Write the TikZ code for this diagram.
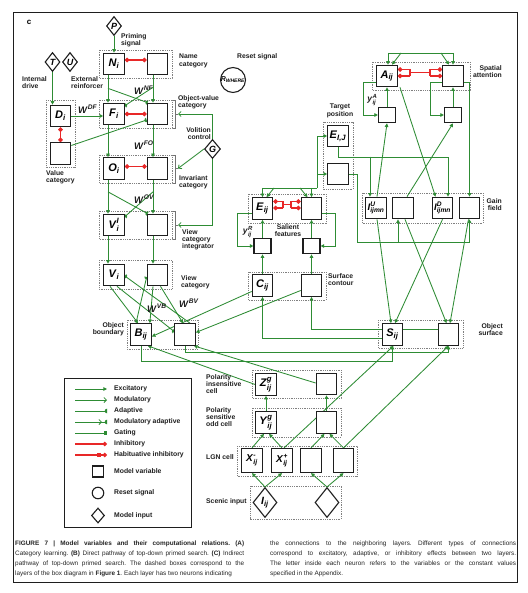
\documentclass[tikz,border=0pt]{standalone}
\usepackage{fontspec}
\usepackage{amsmath}
\setmainfont{Liberation Sans}
\usetikzlibrary{arrows.meta,calc,shapes.geometric}
\pgfdeclarelayer{bg}
\pgfdeclarelayer{paper}
\pgfsetlayers{paper,bg,main}
\definecolor{gr}{RGB}{46,140,52}
\definecolor{rd}{RGB}{232,40,40}
\definecolor{ink}{RGB}{30,30,30}

\pgfdeclarearrow{
  name = HalfDisc,
  parameters = {\the\pgfarrowlength},
  setup code = {
    \pgfarrowssettipend{0pt}
    \pgfarrowssetlineend{-0.5\pgfarrowlength}
    \pgfarrowssetbackend{-\pgfarrowlength}
    \pgfarrowshullpoint{0pt}{\pgfarrowlength}
    \pgfarrowshullpoint{0pt}{-\pgfarrowlength}
    \pgfarrowshullpoint{-\pgfarrowlength}{0pt}
    \pgfarrowssavethe\pgfarrowlength
  },
  drawing code = {
    \pgfpathmoveto{\pgfqpoint{0pt}{\pgfarrowlength}}
    \pgfpatharc{90}{270}{\pgfarrowlength}
    \pgfpathclose
    \pgfusepathqfill
  },
  defaults = { length = 2.3pt }
}

\newcommand{\nvar}[2]{$\textbf{\textit{#1}}_{\textbf{\textit{#2}}}$}
\newcommand{\nvars}[3]{$\textbf{\textit{#1}}^{\textbf{\textit{#3}}}_{\textbf{\textit{#2}}}$}
\newcommand{\wlab}[2]{$\textbf{\textit{#1}}^{\textbf{\textit{#2}}}$}

\tikzset{
 cell/.style={draw=ink, line width=1.2pt, fill=white, minimum width=20.5pt, minimum height=21.5pt, inner sep=0pt, font=\fontsize{11}{11}\selectfont},
 xcell/.style={cell, minimum height=24pt, font=\fontsize{10}{10}\selectfont},
 scell/.style={cell, minimum width=17pt, minimum height=15.5pt},
 gcell/.style={cell, font=\fontsize{9.5}{9.5}\selectfont},
 dia/.style={diamond, draw=ink, line width=1.1pt, fill=white, inner sep=0pt, font=\fontsize{9}{9}\selectfont\bfseries\itshape},
 layerbox/.style={draw=black!50, line width=0.6pt, dash pattern=on 0.9pt off 0.9pt},
 lbl/.style={font=\fontsize{6.8}{7.3}\selectfont\bfseries, inner sep=0pt, text=ink},
 wl/.style={font=\fontsize{9.5}{9.5}\selectfont, inner sep=0pt, text=ink},
 gl/.style={draw=gr, line width=0.85pt},
 exc/.style={gl, -{Triangle[length=3.6pt,width=3.6pt]}},
 adp/.style={gl, -{HalfDisc[length=2.3pt]}},
 mdl/.style={gl, -{Straight Barb[length=2.5pt,width=5pt]}},
 inh/.style={draw=rd, line width=1.1pt, {Circle[length=4.5pt]}-{Circle[length=4.5pt]}},
 rl/.style={draw=rd, line width=1.1pt},
 rdot/.style={rl, -{Circle[length=4.5pt]}},
 brk/.style={draw=black!55, line width=0.7pt},
 capt/.style={font=\fontsize{6.4}{10}\selectfont\frenchspacing, align=justify, inner sep=0pt, text=black!85},
}

\begin{document}
\begin{tikzpicture}[x=1pt,y=-1pt]
\useasboundingbox (0,0) rectangle (527,593);
\begin{pgfonlayer}{paper}
\fill[white] (0,0) rectangle (527,593);
\end{pgfonlayer}
\draw[line width=1pt, draw=ink] (13,13) rectangle (517,582);
\node[font=\fontsize{8}{8}\selectfont\bfseries] (cl) at (29,22) {c};

% ---------- left column nodes ----------
\node[dia, minimum width=15pt, minimum height=19pt] (P) at (114,26) {P};
\node[cell] (N) at (114,64) {\nvar{N}{i}};
\node[cell] (Nr) at (157.5,64) {};
\node[cell] (F) at (114,114) {\nvar{F}{i}};
\node[cell] (Fr) at (157.5,114) {};
\node[cell] (O) at (114,168.5) {\nvar{O}{i}};
\node[cell] (Or) at (157.5,168.5) {};
\node[cell] (VI) at (114,225) {\nvars{V}{i}{I}};
\node[cell] (VIr) at (157.5,225) {};
\node[cell] (V) at (114,275) {\nvar{V}{i}};
\node[cell] (Vr) at (157.5,275) {};
\node[cell] (D) at (60.5,116) {\nvar{D}{i}};
\node[cell] (DV) at (60.5,153.5) {};
\node[dia, minimum width=15pt, minimum height=19pt] (T) at (52.5,62) {T};
\node[dia, minimum width=15pt, minimum height=19pt] (U) at (70,62) {U};
\node[dia, minimum width=16pt, minimum height=19pt] (G) at (212.5,149) {G};
\node[circle, draw=ink, line width=1.1pt, minimum size=24pt, inner sep=0pt, font=\fontsize{7}{7}\selectfont] (R) at (233,80) {$\textbf{\textit{R}}_{\textbf{\textit{WHERE}}}$};
\node[cell] (B) at (141,334.5) {\nvar{B}{ij}};
\node[cell] (Br) at (185,334.5) {};

% ---------- right side nodes ----------
\node[cell] (A) at (387,76) {\nvar{A}{ij}};
\node[cell] (Ar) at (453,76) {};
\node[scell] (YA) at (387,115) {};
\node[scell] (YAr) at (453,115) {};
\node[cell] (EIJ) at (338,136) {\nvar{E}{I,J}};
\node[cell] (ET2) at (338,174) {};
\node[cell] (E) at (262.5,208.5) {\nvar{E}{ij}};
\node[cell] (Er) at (311.5,208.5) {};
\node[scell] (YE) at (262.5,246) {};
\node[scell] (YEr) at (311.5,246) {};
\node[cell] (C) at (262.5,285.5) {\nvar{C}{ij}};
\node[cell] (Cr) at (311.5,285.5) {};
\node[gcell] (IU) at (376,208) {\nvars{I}{ijmn}{U}};
\node[gcell] (G2) at (403,208) {};
\node[gcell] (ID) at (442.5,208) {\nvars{I}{ijmn}{D}};
\node[gcell] (G4) at (469.5,208) {};
\node[cell] (S) at (392.5,334.5) {\nvar{S}{ij}};
\node[cell] (Sr) at (448.5,334.5) {};

% ---------- lower stack ----------
\node[cell] (Z) at (266,384.5) {\nvars{Z}{ij}{g}};
\node[cell] (Zr) at (326.5,384) {};
\node[cell] (Y) at (266,422.5) {\nvars{Y}{ij}{g}};
\node[cell] (Yr) at (326.5,422.5) {};
\node[xcell] (Xm) at (252,460.5) {\nvars{X}{ij}{-}};
\node[xcell] (Xp) at (282,460.5) {\nvars{X}{ij}{+}};
\node[xcell] (X3) at (311,460.5) {};
\node[xcell] (X4) at (343.5,460.5) {};
\node[dia, minimum width=24pt, minimum height=30pt, font=\fontsize{10.5}{10.5}\selectfont] (I) at (265,502.5) {\nvar{I}{ij}};
\node[dia, minimum width=24pt, minimum height=30pt] (I2) at (327,502.5) {};

% brace tips and bends
\coordinate (bF) at (178,114);
\coordinate (bO) at (178,168.5);
\coordinate (bVI) at (178,225);
\coordinate (eb) at (317,188);
\coordinate (gbus) at (357,242);

\begin{pgfonlayer}{bg}
% layer boxes
\draw[layerbox] (99,50) rectangle (172,78);
\draw[layerbox] (99,100) rectangle (172,128);
\draw[layerbox] (99,155) rectangle (172,183);
\draw[layerbox] (99,211) rectangle (172,239);
\draw[layerbox] (99,260) rectangle (172,289);
\draw[layerbox] (46,100) rectangle (75,167);
\draw[layerbox] (127,320) rectangle (198,349);
\draw[layerbox] (372,62) rectangle (470,90);
\draw[layerbox] (323,122) rectangle (353,189);
\draw[layerbox] (248,194) rectangle (326,223);
\draw[layerbox] (362,193) rectangle (483,223);
\draw[layerbox] (248,272) rectangle (326,300);
\draw[layerbox] (378,320) rectangle (463,348);
\draw[layerbox] (252,370) rectangle (341,398);
\draw[layerbox] (252,408) rectangle (341,437);
\draw[layerbox] (237,446) rectangle (357,476);
\draw[layerbox] (250,486) rectangle (341,519);
% braces
\draw[brk] (172.5,100) -- (175.5,100) -- (175.5,128) -- (172.5,128) (175.5,114) -- (bF);
\draw[brk] (172.5,155) -- (175.5,155) -- (175.5,183) -- (172.5,183) (175.5,168.5) -- (bO);
\draw[brk] (172.5,211) -- (175.5,211) -- (175.5,239) -- (172.5,239) (175.5,225) -- (bVI);

% ---- left column connectors ----
\draw[exc] (P) -- (N);
\draw[exc] ($(N.south)+(-6,0)$) -- ($(F.north)+(-6,0)$);
\draw[exc] ($(Nr.south)+(-4.5,0)$) -- ($(Fr.north)+(-4.5,0)$);
\draw[adp] ($(N.south)+(-6,13)$) -- ($(Fr.north west)+(1,0)$);
\draw[adp] ($(Nr.south)+(-4.5,12)$) -- ($(F.north east)+(0,3)$);
\draw[inh] ($(N.east)+(0,-4)$) -- ($(Nr.west)+(0,-4)$);
\draw[inh] (F) -- (Fr);
\draw[inh] ($(O.east)+(0,-2)$) -- ($(Or.west)+(0,-2)$);
\draw[exc] (D.east) -- (D.east -| F.west);
\draw[adp] ($(DV.east)+(0,-8)$) -- ($(Fr.west)+(0,6)$);
\draw[inh] (D) -- (DV);
\draw[exc] (T.south) -- (T.south |- D.north);
\draw[exc] ($(F.south)+(-6,0)$) -- ($(O.north)+(-6,0)$);
\draw[exc] ($(Fr.south)+(-4.5,0)$) -- ($(Or.north)+(-4.5,0)$);
\draw[exc] ($(O.south)+(-6,0)$) -- ($(VI.north)+(-6,0)$);
\draw[exc] ($(Or.south)+(-4.5,0)$) -- ($(VIr.north)+(-4.5,0)$);
\draw[adp] ($(O.south)+(-6,12)$) -- ($(VIr.north west)+(1,0)$);
\draw[adp] ($(Or.south)+(-4.5,12)$) -- ($(VI.north east)+(0,3)$);
\draw[exc] ($(VI.south)+(-6,0)$) -- ($(V.north)+(-6,0)$);
\draw[exc] ($(VIr.south)+(-4.5,0)$) -- ($(Vr.north)+(-4.5,0)$);
\draw[mdl] (G.north) |- (bF);
\draw[mdl] (G.west) -- (bO);
\draw[mdl] (G.south) |- (bVI);
% V <-> B
\draw[exc] ($(V.south)+(-4,0)$) -- ($(B.north)+(-3,0)$);
\draw[adp] ($(V.south)+(3,0)$) -- ($(Br.west)+(0,-3)$);
\draw[exc] ($(Vr.south)+(-4.5,0)$) -- ($(B.north east)+(-2,0)$);
\draw[exc] ($(Vr.south)+(3,0)$) -- ($(Br.north)+(-2,0)$);
\draw[adp] ($(B.north)+(-5,0)$) -- ($(Vr.west)+(0,2)$);
\draw[adp] ($(Br.north)+(5,0)$) -- ($(V.east)+(0,1)$);

% ---- attention ----
\draw[gl] (388,53) -- (453,53);
\draw[exc] (388,53) -- ($(A.north)+(1,0)$);
\draw[exc] (401,53) -- ($(A.north)+(5,0)$);
\draw[exc] (453,53) -- (Ar.north);
\draw[exc] (441,53) -- ($(Ar.north)+(-4,0)$);
\draw[rl] (410,69.5) -- (410,76) (410,72.75) -- (430,72.75) (430,69.5) -- (430,76);
\draw[rdot] (410,69.5) -- ($(A.east)+(0,-6.5)$);
\draw[rdot] (410,76) -- (A.east);
\draw[rdot] (430,69.5) -- ($(Ar.west)+(0,-6.5)$);
\draw[rdot] (430,76) -- (Ar.west);
\draw[exc] ($(A.west)+(0,6)$) -- ++(-13,0) |- (YA.west);
\draw[exc] (YA.north) -- (A.south);
\draw[exc] ($(Ar.west)+(0,6)$) -- ++(-12,0) |- (YAr.west);
\draw[exc] (YAr.north) -- (Ar.south);

% ---- salient / target ----
\draw[gl] (262.5,188) -- (eb);
\draw[exc] (262.5,188) -- (E.north);
\draw[exc] (274,188) -- ($(E.north)+(4,0)$);
\draw[exc] (311.5,188) -- (Er.north);
\draw[exc] (300,188) -- ($(Er.north)+(-4,0)$);
\draw[exc] (eb) |- (EIJ.west);
\draw[exc] (eb |- ET2.west) -- (ET2.west);
\draw[rl] (283,201.5) -- (283,208) (283,204.75) -- (291,204.75) (291,201.5) -- (291,208);
\draw[rdot] (283,201.5) -- ($(E.east)+(0,-7)$);
\draw[rdot] (283,208) -- ($(E.east)+(0,-0.5)$);
\draw[rdot] (291,201.5) -- ($(Er.west)+(0,-7)$);
\draw[rdot] (291,208) -- ($(Er.west)+(0,-0.5)$);
\draw[exc] ($(E.west)+(0,4.5)$) -- ++(-14,0) |- (YE.west);
\draw[exc] ($(Er.east)+(0,4.5)$) -- ++(13,0) |- (YEr.east);
\draw[exc] (YE.north) -- (E.south);
\draw[exc] (YEr.north) -- (Er.south);
\draw[exc] (C.north) -- (YE.south);
\draw[exc] (Cr.north) -- (YEr.south);

% ---- gain field ----
\draw[exc] (EIJ.south) |- (448,157) -- ($(ID.north)+(5.5,0)$);
\draw[exc] ($(IU.north)+(-6,-40)$) -- ($(IU.north)+(-6,0)$);
\draw[exc] ($(A.south)+(13,0)$) -- ($(ID.north)+(-7,0)$);
\draw[exc] ($(Ar.east)+(0,6)$) -| (G4.north);
\draw[exc] ($(IU.north)+(1,0)$) -- (YA.south);
\draw[exc] ($(G2.north)+(4,0)$) -- (YAr.south);
\draw[exc] (ET2.east) -| (gbus) -| (G4.south);
\draw[exc] ($(G2.south)+(-5,23)$) -- ($(G2.south)+(-5,0)$);
\draw[exc] ($(IU.south)+(1,0)$) -- ($(S.north)+(-1.5,0)$);
\draw[exc] (ID.south) -- ($(S.north)+(2.5,0)$);
\draw[exc] ($(G2.south)+(2,0)$) -- ($(Sr.north)+(-2,0)$);
\draw[exc] ($(G4.south)+(-1,0)$) -- ($(Sr.north)+(1.5,0)$);

% ---- surface / contour / boundary ----
\draw[exc] ($(Sr.west)+(0,-5.5)$) -| (Cr.south);
\draw[exc] ($(S.west)+(0,3.5)$) -| (C.south);
\draw[exc] ($(C.west)+(0,6)$) -- ($(B.east)+(0,2)$);
\draw[exc] ($(Cr.west)+(0,5)$) -- ($(Br.east)+(0,-2)$);
\draw[exc] (B.south) -- ++(0,16) -| (S.south);
\draw[exc] (Br.south) -- ++(0,7) -| (Sr.south);
\draw[exc] (Z.west) -- ($(B.south east)+(-4,0)$);
\draw[exc] ($(Zr.west)+(0,-1)$) -- ($(Br.south east)+(-2,0)$);

% ---- lower stack ----
\draw[exc] (I.north) -- (Xm.south);
\draw[exc] (I.north) -- (Xp.south);
\draw[exc] (I2.north) -- (X3.south);
\draw[exc] (I2.north) -- (X4.south);
\draw[exc] (Xm.north) -- ($(Y.south)+(-2,0)$);
\draw[exc] (Xp.north) -- ($(Y.south)+(3,0)$);
\draw[exc] (X3.north) -- ($(Yr.south)+(-2,0)$);
\draw[exc] (X4.north) -- ($(Yr.south)+(3,0)$);
\draw[exc] (Y.north) -- (Z.south);
\draw[exc] (Yr.north) -- (Zr.south);
\draw[exc] ($(Xp.north)+(2,0)$) -- ($(S.south)+(1,0)$);
\draw[exc] (X4.north) -- (Sr.south);
\end{pgfonlayer}

% ---------- labels ----------
\node[lbl, anchor=north west, align=left] (lPrim) at (121,33) {Priming\\signal};
\node[lbl, anchor=north west, align=left] (lName) at (179,54) {Name\\category};
\node[lbl, anchor=north west, align=left] (lInt) at (22,76) {Internal\\drive};
\node[lbl, anchor=north west, align=left] (lExt) at (71,76) {External\\reinforcer};
\node[lbl, anchor=north west, align=left] (lOV) at (178,95) {Object-value\\category};
\node[lbl, anchor=north east, align=right] (lVol) at (211,127) {Volition\\control};
\node[lbl, anchor=north west, align=left] (lVal) at (46,170) {Value\\category};
\node[lbl, anchor=north west, align=left] (lInv) at (179,175) {Invariant\\category};
\node[lbl, anchor=north west, align=left] (lVCI) at (182,229) {View\\category\\integrator};
\node[lbl, anchor=north west, align=left] (lVC) at (181,275) {View\\category};
\node[lbl, anchor=north east, align=right] (lOB) at (124,322) {Object\\boundary};
\node[lbl, anchor=west] (lRes) at (237,57) {Reset signal};
\node[lbl, anchor=north east, align=right] (lSA) at (502,65) {Spatial\\attention};
\node[lbl, anchor=north, align=center] (lTP) at (340,104) {Target\\position};
\node[lbl, anchor=north, align=center] (lSF) at (288,224) {Salient\\features};
\node[lbl, anchor=north east, align=right] (lGF) at (502,198) {Gain\\field};
\node[lbl, anchor=north west, align=left] (lSC) at (328,273) {Surface\\contour};
\node[lbl, anchor=north east, align=right] (lOS) at (503,323) {Object\\surface};
\node[lbl, anchor=north west, align=left] (lPI) at (206,374) {Polarity\\insensitive\\cell};
\node[lbl, anchor=north west, align=left] (lPS) at (206,407) {Polarity\\sensitive\\odd cell};
\node[lbl, anchor=west] (lLGN) at (206,457) {LGN cell};
\node[lbl, anchor=west] (lSI) at (206,502) {Scenic input};

\node[wl, anchor=west] (wNF) at (134,90) {\wlab{W}{NF}};
\node[wl, anchor=west] (wDF) at (78,109) {\wlab{W}{DF}};
\node[wl, anchor=west] (wFO) at (134,145) {\wlab{W}{FO}};
\node[wl, anchor=west] (wOV) at (134,199) {\wlab{W}{OV}};
\node[wl, anchor=west] (wVB) at (147,308) {\wlab{W}{VB}};
\node[wl, anchor=west] (wBV) at (179,303) {\wlab{W}{BV}};
\node[wl, anchor=east, font=\fontsize{8.5}{8.5}\selectfont] (yAl) at (377.5,100) {\nvars{y}{ij}{A}};
\node[wl, anchor=east, font=\fontsize{8.5}{8.5}\selectfont] (yRl) at (253,232) {\nvars{y}{ij}{R}};

% ---------- legend ----------
\draw[line width=0.8pt, draw=ink] (64,378) rectangle (191,527);
\draw[exc] (75,389) -- (107,389);
\draw[mdl] (75,400) -- (107,400);
\draw[adp] (75,411) -- (107,411);
\draw[adp] (75,422) -- (107,422);
\draw[mdl] (75,422) -- (102,422);
\draw[gl, -{Square[length=3.2pt,width=3.6pt]}] (75,433) -- (107,433);
\draw[rdot] (75,444) -- (107,444);
\draw[rdot] (75,455) -- (107,455);
\fill[rd] (96.5,453) rectangle (100.5,457);
\node[lbl, anchor=west] (k1) at (114,389) {Excitatory};
\node[lbl, anchor=west] (k2) at (114,400) {Modulatory};
\node[lbl, anchor=west] (k3) at (114,411) {Adaptive};
\node[lbl, anchor=west] (k4) at (114,422) {Modulatory adaptive};
\node[lbl, anchor=west] (k5) at (114,433) {Gating};
\node[lbl, anchor=west] (k6) at (114,444) {Inhibitory};
\node[lbl, anchor=west] (k7) at (114,455) {Habituative inhibitory};
\node[draw=ink, line width=1.1pt, minimum width=11.5pt, minimum height=11pt, inner sep=0pt] (ks) at (98,471.5) {};
\node[circle, draw=ink, line width=1.1pt, minimum size=11.5pt, inner sep=0pt] (kc) at (98,493) {};
\node[diamond, draw=ink, line width=1.1pt, minimum width=13pt, minimum height=15pt, inner sep=0pt] (kd) at (98,515.5) {};
\node[lbl, anchor=west] (k8) at (114,471.5) {Model variable};
\node[lbl, anchor=west] (k9) at (114,493) {Reset signal};
\node[lbl, anchor=west] (k10) at (114,515.5) {Model input};

% ---------- caption ----------
\node[capt, anchor=north west, text width=229pt] (cap1) at (15,541) {\parfillskip=0pt\relax {\bfseries FIGURE 7 | Model variables and their computational relations. (A)}\linebreak Category learning. {\bfseries (B)} Direct pathway of top-down primed search. {\bfseries (C)} Indirect\linebreak pathway of top-down primed search. The dashed boxes correspond to the\linebreak layers of the box diagram in {\bfseries Figure 1}. Each layer has two neurons indicating};
\node[capt, anchor=north west, text width=246pt] (cap2) at (270,541) {the connections to the neighboring layers. Different types of connections\linebreak correspond to excitatory, adaptive, or inhibitory effects between two layers.\linebreak The letter inside each neuron refers to the variables or the constant values\linebreak specified in the Appendix.};
\end{tikzpicture}
\end{document}
